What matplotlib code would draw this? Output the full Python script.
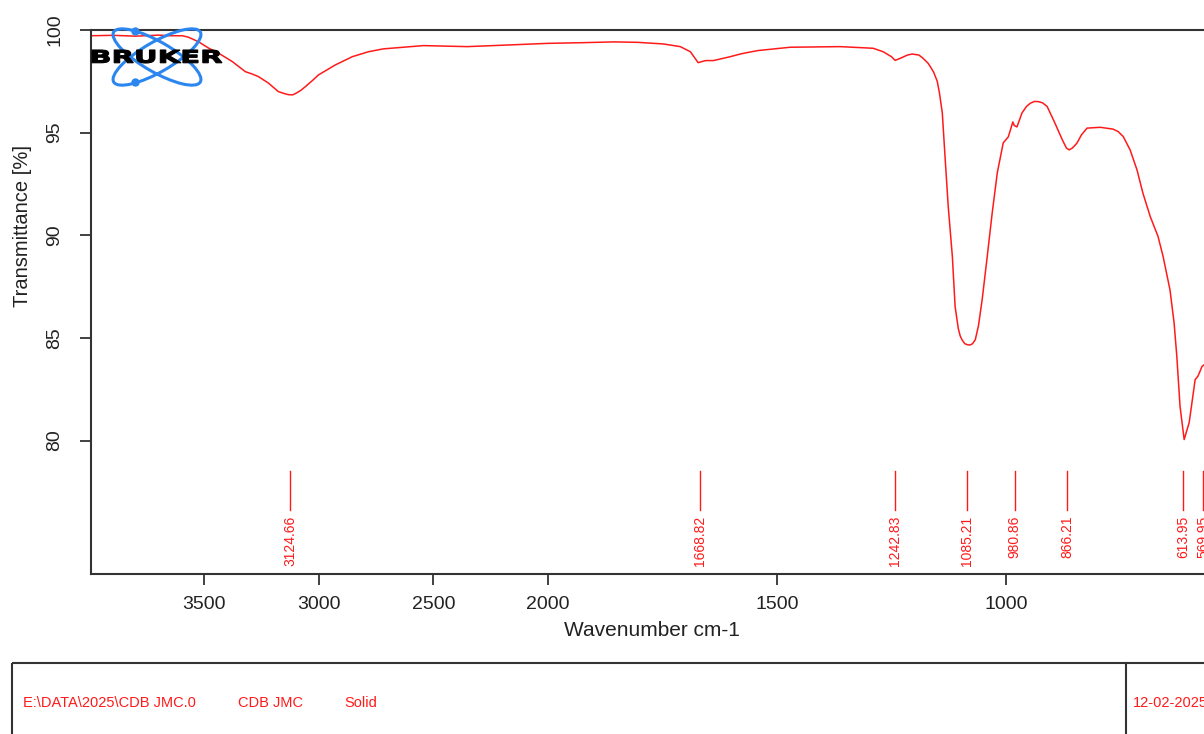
import numpy as np
import matplotlib
matplotlib.use("Agg")
import matplotlib.pyplot as plt
from matplotlib.patches import Ellipse, Rectangle, PathPatch
from matplotlib.textpath import TextPath
from matplotlib.font_manager import FontProperties
from matplotlib.transforms import Affine2D

plt.rcParams['font.family'] = ['Liberation Sans', 'DejaVu Sans']

# spectrum (cm-1, %T)
wavenumber = [3995, 3900, 3800, 3700, 3650, 3596, 3570, 3526, 3482, 3439, 3378, 3321,
              3290, 3264, 3221, 3177, 3150, 3133, 3115, 3103, 3080, 3059, 3030, 3002, 2928, 2854,
              2784, 2719, 2544,
              2352, 2151, 2000, 1929, 1857, 1805, 1748, 1711, 1689, 1672, 1656, 1639,
              1602, 1580, 1565, 1541, 1471, 1362, 1290, 1268, 1250, 1242, 1231, 1215, 1205, 1190, 1181,
              1170, 1165, 1158, 1150, 1145, 1139, 1133, 1126, 1117, 1111, 1104, 1100, 1096, 1090, 1083,
              1078, 1073, 1067, 1060, 1052, 1041, 1030, 1019, 1006, 995, 985, 982, 976, 965, 955, 947,
              938, 929, 920, 910, 893, 877, 868, 862, 855, 845, 835, 823, 794, 766, 755, 744, 729, 714,
              701, 685, 668, 657, 642, 633, 627, 620, 611, 600, 587, 581, 572, 567, 555, 540]
transmittance = [99.72, 99.74, 99.70, 99.75, 99.72, 99.72, 99.65, 99.43, 99.12, 98.88, 98.46, 97.97,
                 97.85, 97.73, 97.42, 97.00, 96.90, 96.85, 96.84, 96.90, 97.05, 97.24, 97.52, 97.81, 98.30, 98.70,
                 98.94, 99.08, 99.24,
                 99.19, 99.28, 99.35, 99.38, 99.42, 99.40, 99.32, 99.19, 98.94, 98.41, 98.51, 98.51,
                 98.70, 98.83, 98.90, 99.00, 99.16, 99.19, 99.11, 98.94, 98.70, 98.52, 98.62, 98.78, 98.83, 98.78, 98.62,
                 98.38, 98.21, 97.95, 97.50, 96.90, 95.96, 93.82, 91.39, 88.95, 86.52, 85.45, 85.10, 84.91, 84.72, 84.66,
                 84.66, 84.72, 84.91, 85.60, 86.86, 88.95, 91.10, 93.04, 94.50, 94.79, 95.52, 95.35, 95.28, 95.96, 96.28, 96.43,
                 96.52, 96.51, 96.45, 96.27, 95.46, 94.65, 94.25, 94.16, 94.25, 94.49, 94.90, 95.22, 95.26, 95.17, 95.05, 94.81, 94.16, 93.19,
                 92.05, 90.91, 89.94, 88.97, 87.35, 85.74, 84.10, 81.67, 80.05, 80.88, 82.97, 83.13, 83.61, 83.70, 83.90, 84.00]

peaks = [3124.66, 1668.82, 1242.83, 1085.21, 980.86, 866.21, 613.95, 569.95]
x_ticks = [3500, 3000, 2500, 2000, 1500, 1000]
y_ticks = [80, 85, 90, 95, 100]
info = ["E:\\DATA\\2025\\CDB JMC.0", "CDB JMC", "Solid", "12-02-2025"]


def fwd(w):
    w = np.asarray(w, dtype=float)
    return np.where(w > 2000, 2000 + (w - 2000) / 2.0, w)


def inv(f):
    f = np.asarray(f, dtype=float)
    return np.where(f > 2000, 2000 + (f - 2000) * 2.0, f)


W, H = 1204, 734
fig = plt.figure(figsize=(W / 100, H / 100), dpi=100)
ax = fig.add_axes([91 / W, (H - 574) / H, (1235 - 91) / W, (574 - 30) / H])
ax.set_xscale('function', functions=(fwd, inv))
ax.plot(wavenumber, transmittance, color='#ff1a1a', lw=1.1, solid_joinstyle='round')
ax.set_xlim(3995, 500)
ax.set_ylim(73.5, 100)

for p in peaks:
    ax.plot([p, p], [76.64, 78.54], color='#ff1a1a', lw=1.0)
    ax.text(p, 76.35, f"{p:.2f}", rotation=90, ha='center', va='top',
            color='#ff1a1a', fontsize=10)

ax.set_xticks(x_ticks)
ax.set_xticklabels([str(t) for t in x_ticks])
ax.xaxis.set_minor_locator(matplotlib.ticker.NullLocator())
ax.set_yticks(y_ticks)
ax.set_yticklabels([str(t) for t in y_ticks], rotation=90, va='center')
ax.tick_params(axis='x', length=8, width=1.3, pad=8, labelsize=14, color='#333333', labelcolor='#222222')
ax.tick_params(axis='y', length=8, width=1.3, pad=12, labelsize=14, color='#333333', labelcolor='#222222')
for s in ['left', 'top', 'bottom']:
    ax.spines[s].set_linewidth(1.5)
    ax.spines[s].set_color('#333333')
ax.spines['right'].set_visible(False)

fig.text(652 / W, 1 - 630 / H, "Wavenumber cm-1", ha='center', va='center', fontsize=15, color='#222222')
fig.text(22 / W, 1 - 226 / H, "Transmittance [%]", ha='center', va='center', rotation=90,
         fontsize=14.5, color='#222222')

# overlay in pixel coordinates for logo and info box
ov = fig.add_axes([0, 0, 1, 1], zorder=5)
ov.set_xlim(0, W)
ov.set_ylim(H, 0)
ov.axis('off')

blue = '#2b86f0'
for ang in (30, -30):
    ov.add_patch(Ellipse((157, 57), 100, 30, angle=ang, fill=False, ec=blue, lw=2.2))
ov.plot([135, 135], [31, 82], 'o', color=blue, ms=5)
tp = TextPath((0, 0), "BRUKER", size=10, prop=FontProperties(family='DejaVu Sans', weight='bold'))
bb = tp.get_extents()
sx = (222 - 92) / bb.width
sy = (63 - 50) / bb.height
tr = Affine2D().translate(-bb.x0, -bb.y0).scale(sx, -sy).translate(92, 63)
ov.add_patch(PathPatch(tr.transform_path(tp), fc='black', ec='black', lw=0.8))

ov.add_patch(Rectangle((12, 663), 1400, 200, fill=False, ec='#333333', lw=1.5, clip_on=False))
ov.plot([1126, 1126], [663, 760], color='#333333', lw=1.5, clip_on=False)
for x, s in zip([23, 238, 344, 1133], info):
    ov.text(x, 703, s, ha='left', va='center', color='#ff1a1a', fontsize=10.5)

fig.savefig("out.png", dpi=100)
